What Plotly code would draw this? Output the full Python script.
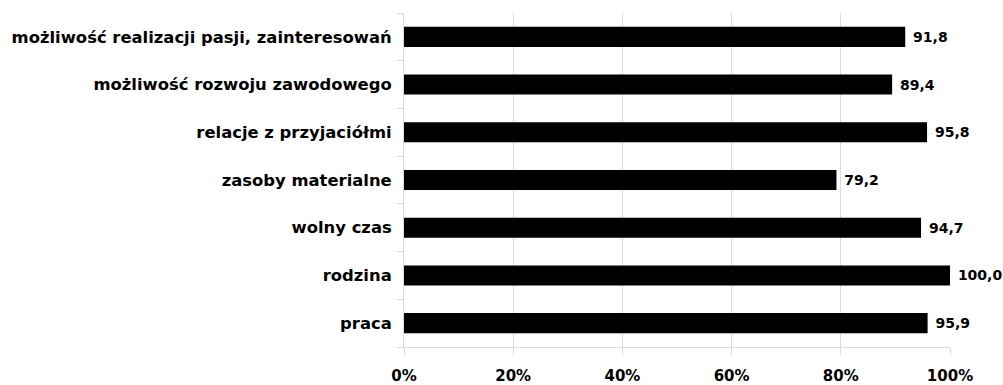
import plotly.graph_objects as go

categories = [
    "praca",
    "rodzina",
    "wolny czas",
    "zasoby materialne",
    "relacje z przyjaciółmi",
    "możliwość rozwoju zawodowego",
    "możliwość realizacji pasji, zainteresowań",
]
values = [95.9, 100.0, 94.7, 79.2, 95.8, 89.4, 91.8]
tick_vals = [0, 20, 40, 60, 80, 100]
tick_text = ["0%", "20%", "40%", "60%", "80%", "100%"]

labels = ["\u00a0" + f"{v:.1f}".replace(".", ",") for v in values]

FONT = "DejaVu Sans"

fig = go.Figure(
    go.Bar(
        y=categories,
        x=values,
        orientation="h",
        marker=dict(color="#000000", line=dict(width=0)),
        text=labels,
        textposition="outside",
        textfont=dict(family=FONT, size=14, color="#000000", weight="bold"),
        cliponaxis=False,
        width=0.42,
        hoverinfo="skip",
    )
)

fig.update_layout(
    width=1003,
    height=385,
    margin=dict(l=404, r=53, t=13, b=38),
    plot_bgcolor="white",
    paper_bgcolor="white",
    showlegend=False,
    font=dict(family=FONT, size=16, color="#000000", weight="bold"),
)

fig.update_xaxes(
    range=[0, 100],
    tickvals=tick_vals,
    ticktext=tick_text,
    showgrid=True,
    gridcolor="#D9D9D9",
    gridwidth=1,
    showline=True,
    linecolor="#D9D9D9",
    linewidth=1,
    ticks="outside",
    ticklen=7,
    tickcolor="#D9D9D9",
    ticklabelstandoff=8,
    tickfont=dict(family=FONT, size=15, color="#000000", weight="bold"),
    zeroline=False,
    automargin=False,
    fixedrange=True,
)

fig.update_yaxes(
    type="category",
    categoryorder="array",
    categoryarray=categories,
    showgrid=False,
    showline=True,
    linecolor="#D9D9D9",
    linewidth=1,
    ticks="outside",
    tickson="boundaries",
    ticklen=6,
    tickcolor="#D9D9D9",
    ticklabelstandoff=8,
    tickfont=dict(family=FONT, size=16.4, color="#000000", weight="bold"),
    automargin=False,
    fixedrange=True,
)

fig.write_html(
    "out.html",
    config={"displayModeBar": False},
    post_script="document.body.style.margin='0';document.body.style.overflow='hidden';",
)
